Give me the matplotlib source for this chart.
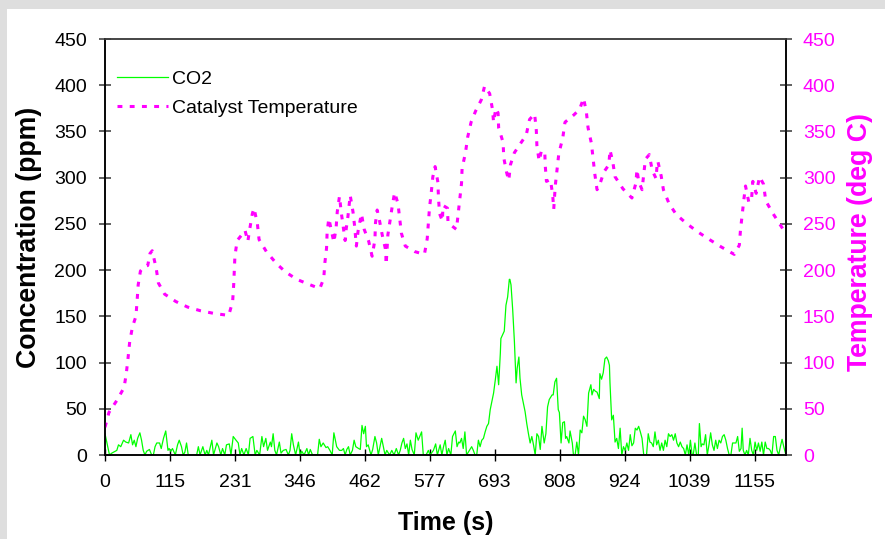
import numpy as np
import matplotlib
matplotlib.use('Agg')
import matplotlib.pyplot as plt
from matplotlib.patches import Rectangle

plt.rcParams['font.family'] = ['Liberation Sans', 'DejaVu Sans']

# CO2 trace (time in s, concentration in ppm)
co2_time = [
    0, 8, 12, 21, 24, 28, 33, 37, 42, 46,
    49, 52, 55, 58, 62, 65, 68, 71, 74, 79,
    83, 86, 89, 92, 97, 100, 104, 108, 112, 114,
    117, 120, 125, 129, 132, 136, 139, 142, 145, 148,
    151, 154, 157, 160, 163, 166, 169, 174, 178, 181,
    184, 190, 193, 199, 202, 206, 209, 213, 216, 221,
    224, 228, 233, 237, 240, 243, 247, 251, 255, 258,
    263, 267, 270, 275, 279, 282, 286, 289, 294, 296,
    299, 302, 305, 310, 313, 317, 322, 326, 329, 332,
    335, 339, 344, 347, 350, 354, 359, 362, 365, 369,
    374, 378, 381, 384, 388, 393, 396, 400, 404, 407,
    412, 417, 421, 424, 427, 430, 433, 436, 440, 443,
    446, 451, 454, 457, 460, 463, 465, 468, 473, 476,
    480, 483, 486, 489, 492, 495, 498, 501, 506, 510,
    514, 518, 522, 525, 528, 531, 534, 537, 540, 543,
    546, 550, 553, 557,
    563, 566, 571, 575, 578, 584, 588, 591, 596, 599,
    602, 605, 608, 611, 615, 618, 623, 626, 629, 631,
    634, 637, 640, 643, 648, 652, 655, 658, 661, 664,
    667, 670, 673, 676, 679, 682, 685, 688, 691, 694,
    697, 700, 703, 704, 707, 710, 713, 716, 719, 720,
    722, 725, 728, 731, 733, 736, 738, 741, 744, 747,
    750, 753, 756, 759, 762, 765, 768, 771, 774, 777,
    781, 784, 787, 790, 795, 797, 800, 803, 806, 808,
    811, 814, 817, 819, 821, 825, 827, 831, 833, 836,
    839, 842, 845, 848, 851, 854, 857, 860, 864, 866,
    869, 872, 875, 879, 880, 883, 886, 889, 892, 895,
    897, 898, 901, 904, 907, 910, 913, 916, 919, 922,
    925, 928, 931, 934, 937, 940, 943, 946, 949, 952,
    955, 958, 961, 963, 966, 969, 972, 975, 978, 981,
    984, 987, 990, 993, 996, 999, 1002, 1005, 1008, 1011,
    1014, 1017, 1020, 1023, 1026, 1029, 1032, 1035, 1038, 1041,
    1044, 1046, 1049, 1052, 1055, 1057, 1060, 1062, 1065, 1068,
    1071, 1074, 1077, 1080, 1083, 1086, 1089, 1092, 1095, 1098,
    1101, 1104, 1107, 1110, 1113, 1116, 1119, 1122, 1125, 1128,
    1131, 1133, 1135, 1138, 1141, 1144, 1147, 1150, 1153, 1156,
    1159, 1162, 1165, 1168, 1171, 1174, 1177, 1180, 1183, 1186,
    1189, 1192, 1195, 1198, 1201, 1204, 1207, 1210,
]
co2_ppm = [
    23, 0, 2, 5, 11, 9, 16, 14, 13, 22,
    11, 16, 9, 18, 24, 16, 5, 0, 4, 6,
    0, 0, 9, 13, 13, 7, 18, 26, 5, 7,
    4, 7, 0, 11, 16, 9, 0, 3, 13, 0,
    0, 0, 0, 0, 0, 9, 0, 9, 0, 5,
    0, 16, 0, 13, 9, 0, 7, 0, 11, 12,
    0, 20, 16, 13, 0, 7, 0, 7, 0, 18,
    20, 0, 5, 0, 20, 9, 18, 5, 14, 9,
    23, 5, 0, 14, 2, 5, 6, 0, 5, 23,
    11, 0, 14, 0, 4, 0, 7, 0, 6, 0,
    0, 0, 17, 9, 13, 8, 9, 5, 0, 24,
    9, 5, 5, 7, 0, 6, 9, 0, 5, 16,
    9, 7, 6, 32, 23, 31, 9, 11, 0, 6,
    20, 13, 0, 9, 18, 9, 0, 5, 0, 5,
    0, 7, 0, 5, 13, 18, 7, 12, 0, 16,
    6, 0, 24, 16,
    25, 0, 0, 5, 0, 5, 12, 0, 11, 0,
    9, 16, 0, 7, 0, 20, 26, 9, 14, 13,
    18, 7, 25, 0, 5, 9, 5, 0, 0, 16,
    9, 16, 18, 25, 31, 34, 49, 58, 67, 81,
    96, 76, 110, 126, 130, 134, 162, 171, 190, 190,
    184, 157, 123, 78, 94, 106, 83, 65, 56, 47,
    34, 23, 13, 20, 11, 0, 23, 20, 6, 31,
    13, 23, 52, 60, 65, 65, 79, 83, 49, 46,
    13, 35, 36, 18, 20, 13, 26, 13, 0, 0,
    14, 0, 27, 24, 42, 38, 31, 67, 76, 65,
    71, 69, 68, 61, 88, 82, 89, 104, 106, 102,
    97, 78, 38, 43, 14, 18, 7, 29, 0, 9,
    5, 13, 5, 22, 10, 13, 29, 27, 31, 25,
    18, 0, 0, 0, 23, 14, 13, 9, 25, 11,
    16, 5, 13, 5, 16, 9, 23, 20, 22, 16,
    23, 13, 9, 14, 9, 7, 0, 11, 0, 16,
    0, 0, 13, 0, 0, 34, 9, 12, 11, 22,
    0, 11, 24, 11, 5, 16, 7, 16, 13, 20,
    22, 16, 7, 0, 0, 13, 13, 13, 20, 4,
    7, 29, 5, 0, 5, 0, 18, 5, 0, 14,
    5, 13, 4, 14, 0, 14, 7, 7, 5, 0,
    20, 20, 5, 0, 9, 17, 9, 2,
]

# catalyst temperature (time in s, deg C)
temp_time = [
    0, 7, 21, 34, 38, 41, 44, 49, 55, 57,
    59, 63, 70, 76, 80, 84, 88, 91, 95, 106,
    126, 147, 170, 195, 220, 227, 229, 230, 231, 235,
    243, 249, 254, 257, 262, 265, 271, 274, 287, 305,
    321, 341, 361, 382, 389, 391, 394, 395, 398, 407,
    411, 413, 417, 420, 427, 429, 432, 436, 441, 444,
    447, 450, 456, 461, 469, 475, 480, 481, 484, 488,
    493, 499, 500, 503, 507, 511, 515, 521, 524, 527,
    534, 551, 568, 573, 575, 577, 580, 583, 587, 592,
    593, 595, 600, 601, 609, 610, 625, 628, 631, 634,
    635, 641, 645, 651, 659, 669, 675, 684, 689, 691,
    695, 699, 700, 708, 709, 714, 718, 721, 728, 740,
    749, 755, 764, 767, 768, 772, 776, 782, 783, 785,
    792, 796, 798, 799, 801, 804, 807, 814, 818, 834,
    844, 851, 856, 859, 865, 868, 871, 875, 879, 887,
    896, 898, 903, 907, 921, 937, 944, 946, 949, 955,
    958, 961, 968, 973, 980, 982, 983, 989, 993, 1003,
    1016, 1035, 1055, 1075, 1096, 1119, 1128, 1130, 1133, 1136,
    1139, 1145, 1150, 1152, 1158, 1164, 1171, 1175, 1187, 1205,
]
temp_degc = [
    30, 46, 59, 73, 89, 105, 123, 139, 150, 166,
    184, 199, 204, 205, 218, 221, 210, 202, 186, 174,
    166, 160, 156, 153, 151, 166, 186, 200, 215, 232,
    238, 243, 231, 243, 261, 267, 250, 233, 220, 207,
    198, 190, 185, 180, 191, 208, 224, 241, 256, 230,
    246, 263, 280, 263, 232, 245, 258, 281, 263, 247,
    226, 242, 261, 244, 231, 215, 233, 251, 265, 254,
    238, 222, 206, 238, 254, 270, 284, 272, 256, 240,
    226, 220, 217, 234, 251, 267, 283, 301, 312, 295,
    278, 261, 253, 270, 267, 251, 244, 261, 277, 294,
    310, 327, 344, 360, 372, 384, 399, 391, 374, 360,
    375, 370, 354, 338, 322, 306, 297, 314, 327, 338,
    346, 363, 369, 351, 335, 318, 329, 328, 312, 296,
    298, 282, 266, 276, 293, 310, 326, 343, 360, 368,
    374, 386, 371, 354, 337, 320, 304, 287, 291, 306,
    314, 330, 317, 301, 288, 278, 294, 309, 296, 287,
    304, 320, 325, 308, 299, 316, 318, 302, 287, 272,
    260, 250, 241, 233, 225, 217, 227, 243, 260, 276,
    291, 273, 279, 296, 283, 301, 293, 275, 262, 245,
]

x_ticks = [0, 115.5, 231, 346.5, 462, 577.5, 693, 808.5, 924, 1039.5, 1155]
x_tick_labels = ['0', '115', '231', '346', '462', '577', '693', '808', '924', '1039', '1155']
y_ticks = [0, 50, 100, 150, 200, 250, 300, 350, 400, 450]

W, H = 885, 539
fig = plt.figure(figsize=(W / 100, H / 100), dpi=100)
fig.patches.append(Rectangle((0, 1 - 9 / H), 1, 9 / H, transform=fig.transFigure,
                             facecolor='#dedede', edgecolor='none', zorder=0))
fig.patches.append(Rectangle((0, 0), 7 / W, 1, transform=fig.transFigure,
                             facecolor='#dedede', edgecolor='none', zorder=0))

ax = fig.add_axes([105 / W, 1 - 455 / H, 681 / W, 416 / H])
ax2 = ax.twinx()

ax.plot(co2_time, co2_ppm, color='#00ff00', lw=0.9, label='CO2')
ax2.plot(temp_time, temp_degc, color='#ff00ff', lw=2.2, dashes=(1.6, 2.4),
         label='Catalyst Temperature')

ax.set_xlim(0, 1211)
ax.set_ylim(0, 450)
ax2.set_ylim(0, 450)
ax.set_xticks(x_ticks)
ax.set_xticklabels(x_tick_labels)
ax.set_yticks(y_ticks)
ax2.set_yticks(y_ticks)

ax.tick_params(axis='x', direction='inout', length=9, width=1, pad=9,
               labelsize=14, colors='black')
ax.tick_params(axis='y', direction='inout', length=9, width=1.3, pad=8.5,
               labelsize=14, color='#555555', labelcolor='black')
ax2.tick_params(axis='y', direction='inout', length=9, width=1.3, pad=7.7,
                labelsize=14, color='#555555', labelcolor='#ff00ff')

for a in (ax, ax2):
    for side in ('left', 'right', 'bottom'):
        a.spines[side].set_color('black')
        a.spines[side].set_linewidth(1.1)
    a.spines['top'].set_color('#404040')
    a.spines['top'].set_linewidth(1.1)

ax.set_xlabel('Time (s)', fontsize=18, fontweight='bold')
ax.xaxis.set_label_coords(0.5, -0.135)
ax.set_ylabel('Concentration (ppm)', fontsize=19.2, fontweight='bold')
ax.yaxis.set_label_coords(-0.093, 0.524)
ax2.set_ylabel('Temperature (deg C)', fontsize=19.2, fontweight='bold',
               color='#ff00ff', rotation=90)
ax2.yaxis.set_label_coords(1.0896, 0.512)

h1, l1 = ax.get_legend_handles_labels()
h2, l2 = ax2.get_legend_handles_labels()
ax2.legend(h1 + h2, l1 + l2, loc='upper left', bbox_to_anchor=(0.0176, 0.925),
           frameon=False, fontsize=14, borderpad=0, borderaxespad=0,
           handlelength=2.6, handletextpad=0.25, labelspacing=0.6)

fig.savefig('out.png', dpi=100)
